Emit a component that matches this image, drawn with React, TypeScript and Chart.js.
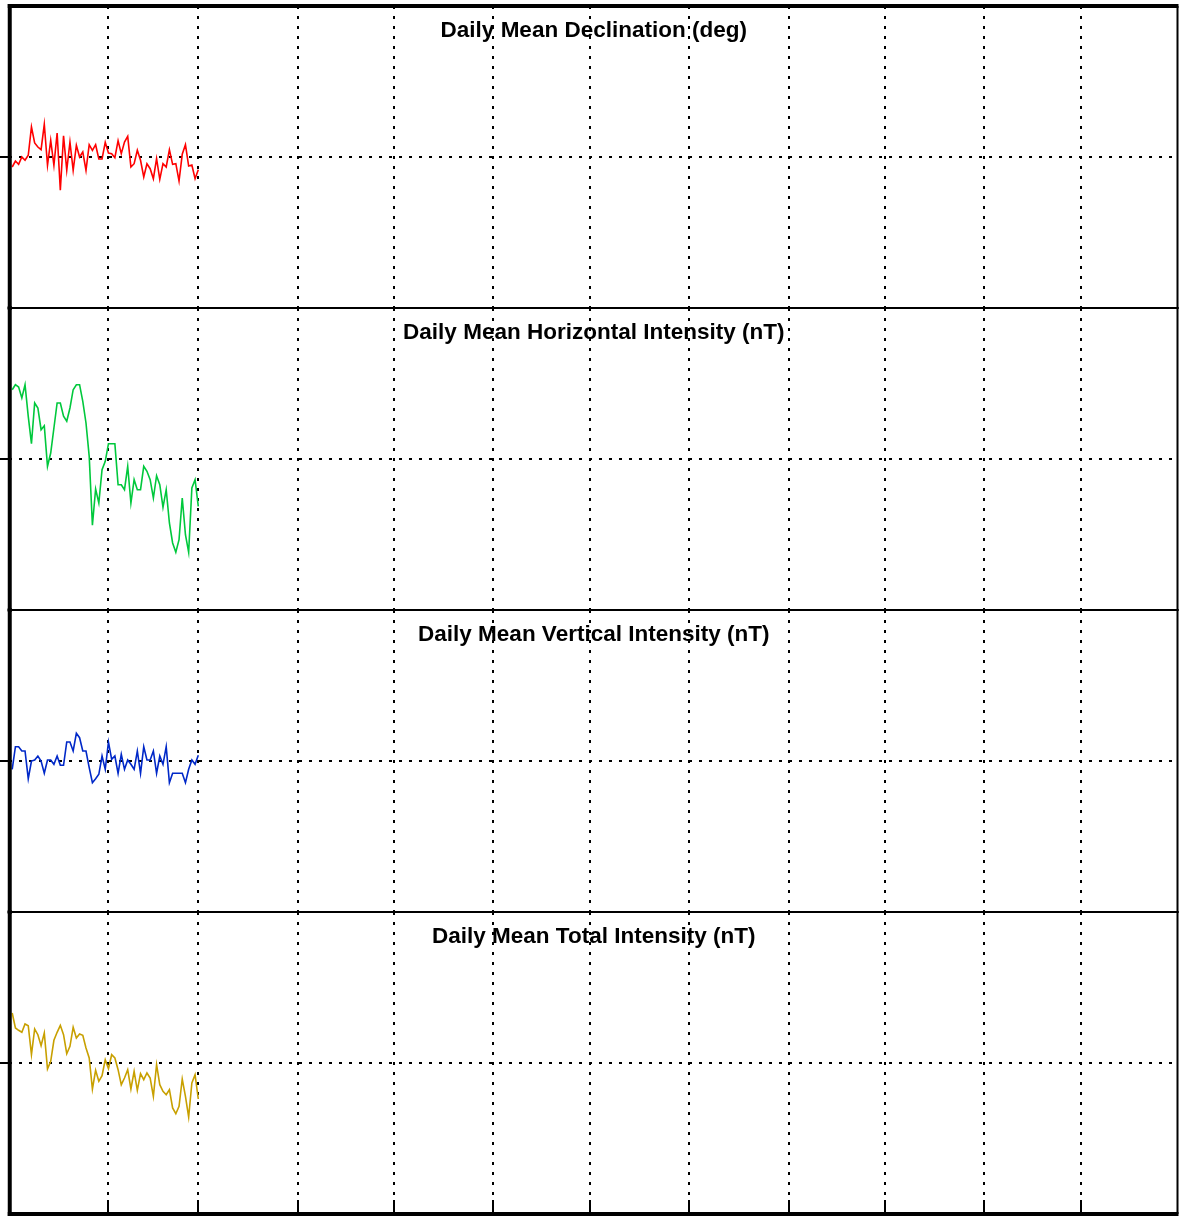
import React, { useEffect, useRef } from "react";
import { Chart, registerables } from "chart.js";

Chart.register(...registerables);

// Month boundaries (day of year) used as x grid lines
const monthEdges = [31, 59, 90, 120, 151, 181, 212, 243, 273, 304, 334];

const panelTitles = [
  "Daily Mean Declination (deg)",
  "Daily Mean Horizontal Intensity (nT)",
  "Daily Mean Vertical Intensity (nT)",
  "Daily Mean Total Intensity (nT)",
];

const panelColors = ["#ff0000", "#00c83c", "#0028c8", "#c8a000"];

// Daily mean deviations from each panel's baseline (Jan 1 .. Feb 28)
const declination = [
  -10, -4, -7.3, 0, -3.3, 1.7, 30, 14, 10, 7.3, 32.7, -8.3, 16.7, -8.3, 24, -33.3, 21.3, -13.3, 15, -13.3,
  11.7, 0, 5, -13.3, 12.3, 6.7, 12.3, -2, -2, 14.7, 4, 3.3, -0.7, 16.3, 3.3, 15, 20.7, -10, -6.7, 6.7,
  -3.3, -20, -6.7, -11.7, -21.7, -1.7, -22.3, -6.7, -10, 7.3, -7.3, -6.7, -24, 2.7, 12.3, -9, -8, -21.7, -12.7,
];

const horizontal = [
  69.3, 74.3, 72, 61, 74.3, 42.7, 15.3, 56, 51, 29.3, 33.3, -7.3, 6, 31, 56, 56, 42.7, 37.7, 51, 69.3,
  74.3, 74.3, 57.7, 36, 2.7, -66.3, -30, -44, -10.7, -2.3, 15.3, 15.3, 15.3, -25.7, -25.7, -30.7, -7.3, -44, -20.7, -30.7,
  -30.7, -7.3, -12.3, -20.7, -39, -16.7, -25.7, -48.3, -30.7, -64, -84, -93.3, -80.7, -39, -75.7, -93.3, -29, -20.7, -47.3,
];

const vertical = [
  -8.3, 14.3, 14.3, 10, 10, -17.7, 0, 1, 5, 0, -12.3, 1, 1, -3.3, 5, -4.3, -4.3, 19, 19, 10,
  27.7, 23.3, 10, 10, -6.7, -21.7, -17.7, -13.3, 5, -8.3, 19, 1.7, 5, -12.3, 6.7, -8.3, 1, -3.3, -8.3, 10,
  -12.3, 14.3, 1, 1, 10, -12.3, 5, -3.3, 14.3, -21.7, -12.3, -12.3, -12.3, -12.3, -21.7, -8.3, 1, -3.3, 5.7,
];

const total = [
  50, 35, 32.7, 30.7, 39, 37.3, 8.3, 34, 28.3, 17.3, 30, -6, 1.7, 22.7, 30.7, 37.7, 28.3, 9.3, 16.7, 35.7,
  25, 29, 27.7, 15, 5, -26, -7.3, -18.3, -12.7, 3.3, -5.7, 8.3, 5, -6.7, -21.7, -15, -6.7, -26, -8.3, -27.3,
  -10.7, -16.7, -10, -15, -33.3, -1.7, -21.7, -28.3, -31.7, -26.7, -45, -50.7, -43.3, -16, -33.3, -54, -20, -11.7, -36,
];

const panelSeries = [declination, horizontal, vertical, total];

const PANEL_STEP = 302;
const CANVAS_W = 1180;
const CANVAS_H = 314;
const Y_HALF = 151;
const RIGHT_EDGE = 1177.5;

const framePlugin = {
  id: "frame",
  afterDraw(chart: any, _args: any, opts: any) {
    const { ctx, chartArea } = chart;
    const { left, right, top, bottom } = chartArea;
    ctx.save();
    // clear the part of the plot cut off on the right
    ctx.clearRect(RIGHT_EDGE + 1, 0, chart.width - RIGHT_EDGE, chart.height);
    ctx.fillStyle = "#000";
    ctx.font = 'bold 22.5px "Liberation Sans", Arial, Helvetica, sans-serif';
    ctx.textAlign = "center";
    ctx.textBaseline = "middle";
    ctx.fillText(opts.title, (left + RIGHT_EDGE) / 2 + 0.5, top + 25);

    ctx.strokeStyle = "#000";
    ctx.setLineDash([]);
    const seg = (x1: number, y1: number, x2: number, y2: number, w: number) => {
      ctx.lineWidth = w;
      ctx.beginPath();
      ctx.moveTo(x1, y1);
      ctx.lineTo(x2, y2);
      ctx.stroke();
    };
    const lx = left + 0.75;
    // top
    seg(lx - 2, top, RIGHT_EDGE + 1, top, opts.first ? 4 : 2);
    // bottom
    seg(lx - 2, bottom, RIGHT_EDGE + 1, bottom, opts.last ? 4 : 2);
    // right
    seg(RIGHT_EDGE, top, RIGHT_EDGE, bottom, 2);
    // left
    seg(lx, top - 2, lx, bottom + 2, 4);
    if (opts.last) {
      const xs = chart.scales.x;
      monthEdges.forEach((m) => {
        const px = Math.round(xs.getPixelForValue(m));
        seg(px, bottom - 14, px, bottom, 2);
      });
    }
    ctx.restore();
  },
};

function Panel({ index }: { index: number }) {
  const ref = useRef<HTMLCanvasElement | null>(null);
  useEffect(() => {
    if (!ref.current) return;
    const values = panelSeries[index];
    const points = values.map((v, i) => ({ x: i + 1, y: v }));
    const chart = new Chart(ref.current, {
      type: "line",
      data: {
        datasets: [
          {
            data: points,
            borderColor: panelColors[index],
            borderWidth: 1.6,
            pointRadius: 0,
            tension: 0,
            fill: false,
          },
        ],
      },
      options: {
        responsive: false,
        animation: false,
        devicePixelRatio: 1,
        layout: { padding: { top: 6, bottom: 6, left: 0, right: 0 } },
        plugins: {
          legend: { display: false },
          tooltip: { enabled: false },
          title: { display: false },
          frame: { title: panelTitles[index], first: index === 0, last: index === 3 },
        } as any,
        scales: {
          x: {
            type: "linear",
            min: 0,
            max: 365,
            afterBuildTicks: (s: any) => {
              s.ticks = monthEdges.map((v) => ({ value: v }));
            },
            ticks: { display: false },
            grid: { color: "#000", lineWidth: 2, drawTicks: false },
            border: { display: false, dash: [3, 7] },
          },
          y: {
            type: "linear",
            min: -Y_HALF,
            max: Y_HALF,
            afterBuildTicks: (s: any) => {
              s.ticks = [{ value: 0 }];
            },
            ticks: { display: false },
            grid: {
              color: "#000",
              lineWidth: 2,
              drawTicks: true,
              tickLength: 9,
              tickColor: "#000",
              tickWidth: 2,
            },
            border: { display: false, dash: [3, 7] },
          },
        },
      },
      plugins: [framePlugin],
    });
    return () => chart.destroy();
  }, [index]);
  return (
    <canvas
      ref={ref}
      width={CANVAS_W}
      height={CANVAS_H}
      style={{
        position: "absolute",
        left: 0,
        top: PANEL_STEP * index,
        width: CANVAS_W,
        height: CANVAS_H,
        display: "block",
      }}
    />
  );
}

export default function App() {
  return (
    <div
      style={{
        position: "absolute",
        left: 0,
        top: 0,
        width: 1180,
        height: 1217,
        background: "#fff",
        overflow: "hidden",
      }}
    >
      {[0, 1, 2, 3].map((i) => (
        <Panel key={i} index={i} />
      ))}
    </div>
  );
}
